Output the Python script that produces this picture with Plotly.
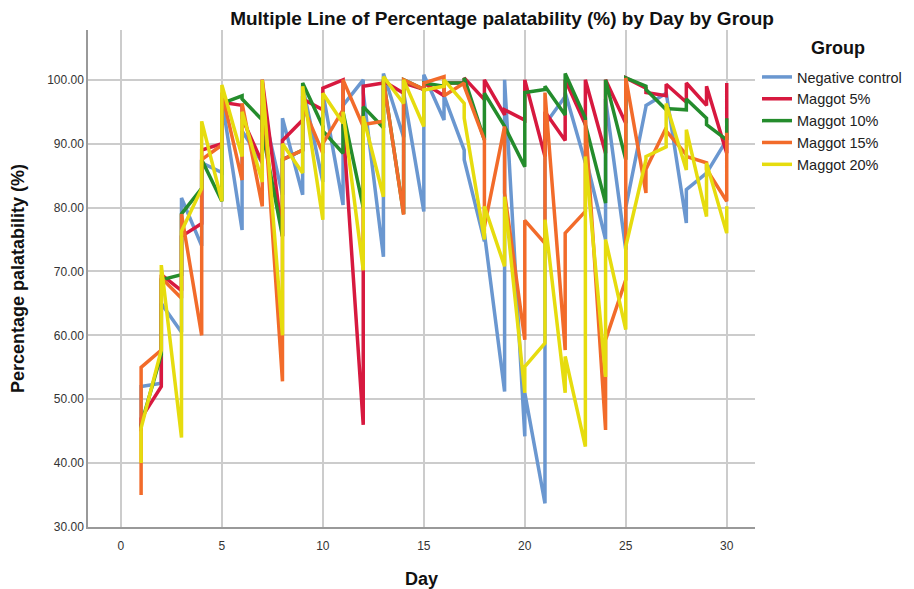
import plotly.graph_objects as go

days = list(range(1, 31))
groups = ["Negative control", "Maggot 5%", "Maggot 10%", "Maggot 15%", "Maggot 20%"]
colors = ["#6a97d0", "#d7193f", "#248c2c", "#f26b2a", "#e6dc0e"]
y_ticks = [30, 40, 50, 60, 70, 80, 90, 100]
x_ticks = [0, 5, 10, 15, 20, 25, 30]

# values per day: [first replicate, last replicate]
negative_control = [
    [46, 52], [52.5, 65], [60.5, 81.5], [74, 87], [85.5, 97], [76.5, 92], [87, 96], [82, 94],
    [82, 99], [84, 98], [80.4, 96], [100, 98], [72.3, 101], [91, 98], [79.4, 100.8],
    [93.7, 97.5], [89, 87.5], [74.7, 76], [51.2, 100], [44.2, 51], [33.7, 93], [97.4, 98],
    [87, 88], [75, 97], [73.4, 80], [95.8, 96], [97.9, 98], [77.6, 82.8], [85.4, 85.4], [90.6, 90.6],
]
maggot_5 = [
    [45, 47], [52, 69.5], [67, 75.5], [77.5, 89], [90, 96.5], [96, 94], [87, 100], [75.5, 90.5],
    [93.7, 97], [95.3, 98.7], [100, 93], [46, 99], [99.5, 99.8], [97.9, 99.5], [98.5, 99.5],
    [97.5, 99.5], [99.5, 100.3], [96.9, 100], [94.5, 95.3], [93.7, 100], [88, 95], [90.5, 100],
    [93, 100], [88.5, 100], [93.2, 100.3], [98.7, 98], [97.5, 99.3], [96.5, 99.5], [96, 99], [88.5, 99.5],
]
maggot_10 = [
    [45.5, 46], [57, 68.7], [69.5, 79], [83, 87.5], [81, 96.3], [97.5, 97], [93.7, 92], [75.5, 87.5],
    [89, 99.5], [92.7, 92], [88.5, 95], [80, 95.8], [92.5, 100], [79, 100], [98.5, 99.5],
    [99, 99.5], [99.5, 100.3], [90.6, 97.9], [92.7, 92.7], [86.4, 98], [98.5, 99], [94.5, 101],
    [94, 93], [80.7, 100], [87.5, 100.3], [99, 98.5], [95.3, 95.5], [95.3, 97], [94, 93], [90.6, 94],
]
maggot_15 = [
    [35, 55], [57.7, 69], [65.8, 79], [60, 87.5], [89.8, 98], [84.3, 96.3], [80.2, 100], [52.8, 87.5],
    [89, 96], [88.5, 90], [95.3, 100], [92.7, 93], [93.5, 100], [78.9, 100], [98.5, 99.5],
    [100.5, 97.5], [99.5, 99], [90.6, 77], [92.7, 82.3], [59.3, 78], [74.4, 98], [57.7, 76],
    [79.4, 93.7], [45.2, 59.3], [68.7, 100.3], [82.3, 86], [92.5, 92], [88.3, 88], [87, 86], [81, 91.7],
]
maggot_20 = [
    [40, 45.5], [57.7, 71], [44, 76.3], [83, 93.5], [81, 99.2], [88, 95], [84, 100], [60, 90],
    [85.4, 99], [78.1, 97.9], [93.2, 95], [70.2, 94.3], [81.7, 100.5], [96.3, 100], [92.7, 98.4],
    [99, 100], [96.3, 94], [75, 80.2], [70.8, 81.7], [51, 55.1], [58.8, 78.1], [51, 56.7],
    [42.6, 88], [53.5, 75], [60.9, 73.9], [87.5, 88], [89.5, 96.3], [85.9, 92.2], [78.6, 87], [76, 80.2],
]
series = [negative_control, maggot_5, maggot_10, maggot_15, maggot_20]

FONT = "Liberation Sans, Arial, sans-serif"

# page body has an 8px margin, so the figure is sized to fit the 914x589 window
W, H = 906, 581
L, T = 80, 22
PW, PH = 667, 497

fig = go.Figure()
for name, color, vals in zip(groups, colors, series):
    xs, ys = [], []
    for d, pair in zip(days, vals):
        for v in pair:
            xs.append(d)
            ys.append(v)
    fig.add_trace(go.Scatter(x=xs, y=ys, mode="lines", name=name,
                             line=dict(color=color, width=3.5)))

fig.add_annotation(
    text="<b>Group</b>", xref="paper", yref="paper",
    x=(830 - L) / PW, y=1 - (40 - T) / PH, xanchor="center", yanchor="middle",
    showarrow=False, font=dict(size=18, color="#111111", family=FONT),
)

fig.update_layout(
    width=W, height=H,
    margin=dict(l=L, r=W - L - PW, t=T, b=H - T - PH, autoexpand=False),
    paper_bgcolor="white", plot_bgcolor="white",
    font=dict(family=FONT, color="#222222"),
    title=dict(text="<b>Multiple Line of Percentage palatability (%) by Day by Group</b>",
               x=494 / W, xanchor="center", y=1 - 10 / H, yanchor="middle",
               font=dict(size=19, color="#111111", family=FONT)),
    legend=dict(
        x=(749 - L) / PW, xanchor="left", y=1 - (53 - T) / PH, yanchor="top",
        font=dict(size=14.5, color="#222222"),
        bgcolor="rgba(0,0,0,0)",
    ),
    showlegend=True,
)
fig.update_xaxes(
    range=[-1.63, 31.4], tickvals=x_ticks, ticktext=[str(t) for t in x_ticks],
    showgrid=True, gridcolor="#cccccc", gridwidth=1.5,
    showline=True, linecolor="#999999", linewidth=1.5,
    zeroline=False, ticks="", tickfont=dict(size=12, color="#333333"),
    ticklabelstandoff=7, automargin=False,
    title=dict(text="<b>Day</b>", font=dict(size=18, color="#111111"), standoff=26),
)
fig.update_yaxes(
    range=[30, 107.8], tickvals=y_ticks, tickformat=".2f",
    showgrid=True, gridcolor="#cccccc", gridwidth=1.5,
    showline=True, linecolor="#999999", linewidth=1.5,
    zeroline=False, ticks="", tickfont=dict(size=12, color="#333333"),
    automargin=False,
    title=dict(text="<b>Percentage palatability (%)</b>", font=dict(size=18, color="#111111"), standoff=21),
)

fig.write_html("out.html")
